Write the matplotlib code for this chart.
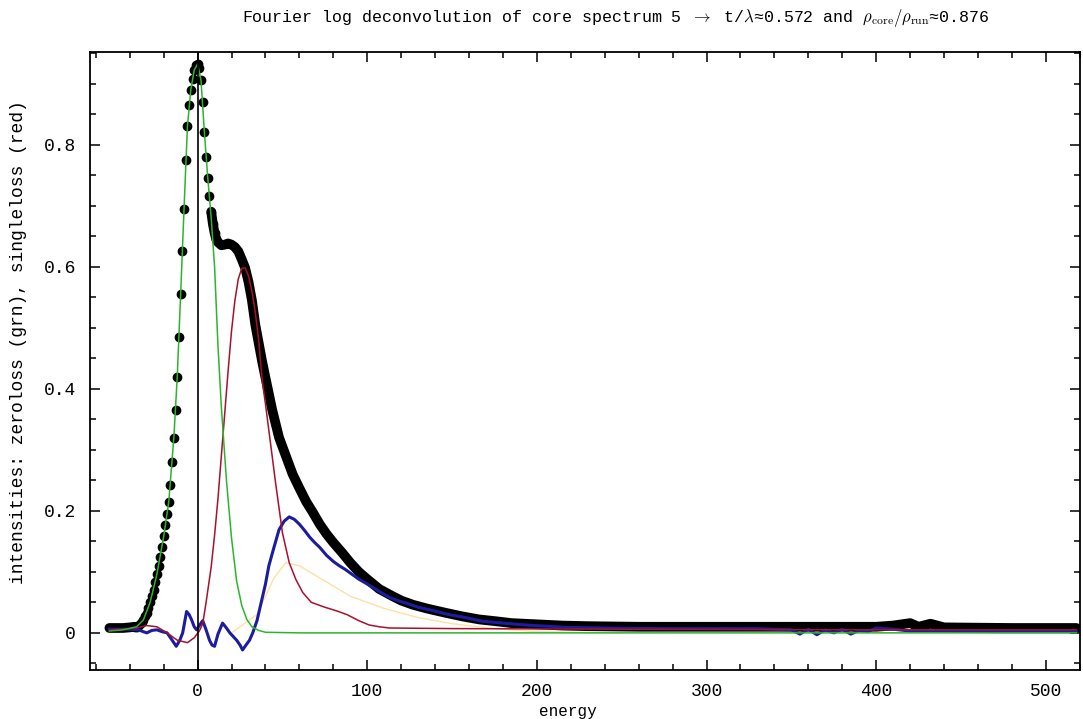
# Fourier log deconvolution of a core-loss spectrum: measured data, zero-loss,
# single-loss and multiple-scattering parts
import numpy as np
import matplotlib.pyplot as plt
from matplotlib.ticker import MultipleLocator, FuncFormatter

# measured spectrum (black dots)
meas_e = [-52, -48, -44, -40, -37, -36, -35, -34, -33, -32, -31, -30, -29, -28, -27,
          -26, -25, -24, -23, -22, -21, -20, -19, -18, -17, -16, -15, -14, -13, -12,
          -11, -10, -9, -8, -7, -6, -5, -4, -3, -2, -1, 0, 1, 2, 3, 4, 5, 6, 7, 8, 9,
          10, 11, 12, 14, 16, 18, 20, 22, 24, 26, 28, 30, 32, 34, 36, 38, 40, 44, 48,
          52, 56, 60, 64, 68, 72, 76, 80, 85, 90, 95, 100, 107, 115, 120, 127, 135,
          146, 156, 166, 176, 185, 200, 215, 230, 260, 300, 350, 400, 410, 420,
          425, 432, 440, 480, 518]
meas_v = [0.008, 0.008, 0.008, 0.009, 0.010, 0.010, 0.012, 0.014, 0.017, 0.021, 0.027,
          0.033, 0.041, 0.050, 0.060, 0.071, 0.083, 0.096, 0.110, 0.125, 0.141, 0.158,
          0.176, 0.195, 0.215, 0.243, 0.280, 0.320, 0.365, 0.420, 0.485, 0.555, 0.625,
          0.695, 0.775, 0.830, 0.865, 0.890, 0.908, 0.922, 0.930, 0.932, 0.925, 0.905,
          0.870, 0.820, 0.780, 0.745, 0.715, 0.690, 0.670, 0.655, 0.645, 0.640, 0.635,
          0.636, 0.638, 0.636, 0.632, 0.625, 0.612, 0.598, 0.575, 0.545, 0.505, 0.475,
          0.445, 0.418, 0.365, 0.320, 0.290, 0.260, 0.237, 0.215, 0.197, 0.178, 0.162,
          0.148, 0.132, 0.115, 0.100, 0.088, 0.072, 0.060, 0.053, 0.046, 0.040, 0.033,
          0.027, 0.022, 0.019, 0.016, 0.014, 0.012, 0.011, 0.010, 0.010, 0.010,
          0.010, 0.012, 0.016, 0.010, 0.015, 0.009, 0.008, 0.008]

# zero-loss (green)
zl_e = [-52, -44, -36, -32, -28, -24, -20, -17, -14, -12, -10, -8, -6, -4, -2, 0, 2, 4,
        6, 8, 10, 12, 14, 17, 20, 23, 26, 29, 32, 36, 40, 60, 200, 400, 518]
zl_v = [0.003, 0.005, 0.010, 0.021, 0.050, 0.096, 0.158, 0.215, 0.320, 0.420, 0.555,
        0.695, 0.830, 0.890, 0.922, 0.932, 0.905, 0.820, 0.745, 0.680, 0.600, 0.470,
        0.370, 0.250, 0.155, 0.085, 0.045, 0.022, 0.010, 0.004, 0.001, 0.0, 0.0, 0.0,
        0.0]

# single loss (red)
sl_e = [-52, -44, -36, -30, -24, -18, -12, -6, -2, 1, 3, 5, 8, 10, 12, 14, 16, 18, 20,
        22, 24, 26, 28, 30, 32, 34, 36, 38, 40, 43, 46, 50, 54, 58, 62, 67, 75, 82, 88,
        95, 101, 107, 113, 150, 250, 400, 518]
sl_v = [0.005, 0.006, 0.008, 0.012, 0.010, 0.0, -0.012, -0.016, -0.008, 0.003, 0.015,
        0.050, 0.108, 0.160, 0.220, 0.290, 0.360, 0.430, 0.495, 0.545, 0.580, 0.597,
        0.598, 0.585, 0.560, 0.525, 0.480, 0.415, 0.375, 0.310, 0.245, 0.164, 0.115,
        0.087, 0.066, 0.050, 0.042, 0.036, 0.030, 0.020, 0.013, 0.010, 0.008, 0.007,
        0.006, 0.005, 0.005]

# multiple scattering remainder (blue)
ms_e = [-52, -46, -40, -35, -32, -30, -27, -24, -21, -18, -15, -12.6, -10.5, -8.8, -6.5,
        -5, -3.5, -2, -0.6, 1, 3, 5, 7, 8.5, 10, 12, 14.7, 17, 19, 21, 23, 25, 26.5,
        28.5, 30.6, 32.5, 35, 37.5, 40, 42, 45, 48, 51, 54, 57, 60, 63, 66, 69, 72, 76,
        80, 83.5, 87, 91, 95, 100, 107, 113, 119, 125, 130, 138, 148, 158, 168, 180,
        193, 205, 217, 240, 270, 300, 330, 350, 355, 360, 365, 370, 375, 380, 385, 390,
        395, 400, 410, 420, 440, 470, 500, 518]
ms_v = [0.006, 0.006, 0.006, 0.005, 0.002, 0.0, 0.004, 0.005, 0.002, 0.0, -0.012,
        -0.022, -0.012, 0.0, 0.035, 0.030, 0.021, 0.010, 0.005, 0.012, 0.020, 0.005,
        -0.012, -0.020, -0.022, -0.002, 0.016, 0.008, 0.0, -0.006, -0.012, -0.020,
        -0.028, -0.020, -0.012, 0.0, 0.020, 0.050, 0.080, 0.110, 0.140, 0.169, 0.183,
        0.190, 0.186, 0.178, 0.168, 0.157, 0.148, 0.140, 0.127, 0.117, 0.110, 0.104,
        0.096, 0.088, 0.080, 0.068, 0.058, 0.052, 0.047, 0.042, 0.037, 0.030, 0.025,
        0.019, 0.016, 0.013, 0.011, 0.009, 0.008, 0.007, 0.007, 0.007, 0.005, -0.002,
        0.006, -0.003, 0.005, 0.0, 0.006, -0.002, 0.004, 0.002, 0.008, 0.006, 0.003,
        0.003, 0.002, 0.002, 0.002]

# faint double-loss term (orange)
dl_e = [20, 35, 45, 52, 60, 75, 90, 110, 130, 150, 175, 200, 250]
dl_v = [0.0, 0.03, 0.09, 0.115, 0.11, 0.085, 0.06, 0.04, 0.025, 0.015, 0.007, 0.002, 0.0]

mono = ['Liberation Mono', 'DejaVu Sans Mono']
plt.rcParams['font.family'] = mono
plt.rcParams['mathtext.fontset'] = 'cm'

fig = plt.figure(figsize=(10.83, 7.19), dpi=100)
ax = fig.add_axes([0.083, 0.068, 0.914, 0.86])

me = np.array(meas_e)
mv = np.array(meas_v)
# thick band where the points overlap, separate dots on the steep zero-loss flanks
band = (me >= 8) | (me <= -37)
ax.plot(me, np.where(band, mv, np.nan), color='black', lw=7,
        solid_capstyle='round', zorder=2)
dots = (me > -38) & (me < 12)
ax.plot(me[dots], mv[dots], 'o', color='black', ms=6, zorder=3)

ax.plot(dl_e, dl_v, color='orange', lw=1, alpha=0.35, zorder=3)
ax.plot(ms_e, ms_v, color='#1c1ca0', lw=2.2, zorder=4)
ax.plot(sl_e, sl_v, color='#a8102c', lw=1.1, zorder=5)
ax.plot(zl_e, zl_v, color='#2cb52c', lw=1.1, zorder=6)
ax.axvline(0, color='black', lw=1.2, zorder=7)

ax.set_xlim(-63.5, 520)
ax.set_ylim(-0.061, 0.952)
ax.xaxis.set_major_locator(MultipleLocator(100))
ax.xaxis.set_minor_locator(MultipleLocator(20))
ax.yaxis.set_major_locator(MultipleLocator(0.2))
ax.yaxis.set_minor_locator(MultipleLocator(0.05))
ax.yaxis.set_major_formatter(FuncFormatter(lambda v, p: '0' if abs(v) < 1e-9 else f'{v:.1f}'))
ax.xaxis.set_major_formatter(FuncFormatter(lambda v, p: f'{v:.0f}'))
ax.tick_params(which='both', direction='in', top=True, right=True, labelsize=13,
               width=1.1)
ax.tick_params(axis='y', pad=10)
ax.tick_params(axis='x', pad=9)
ax.tick_params(which='major', length=7)
ax.tick_params(which='minor', length=4)
for s in ax.spines.values():
    s.set_linewidth(1.3)

fig.text(0.569, 0.975,
         r'Fourier log deconvolution of core spectrum 5 $\rightarrow$ t/$\lambda$≈0.572 and '
         r'$\rho_{\rm core}/\rho_{\rm run}$≈0.876',
         ha='center', va='center', fontsize=12)
fig.text(0.524, 0.010, 'energy', ha='center', va='center', fontsize=11.5)
fig.text(0.017, 0.524, 'intensities: zeroloss (grn), singleloss (red)', rotation=90,
         ha='center', va='center', fontsize=13)

fig.savefig('out.png', dpi=100)
